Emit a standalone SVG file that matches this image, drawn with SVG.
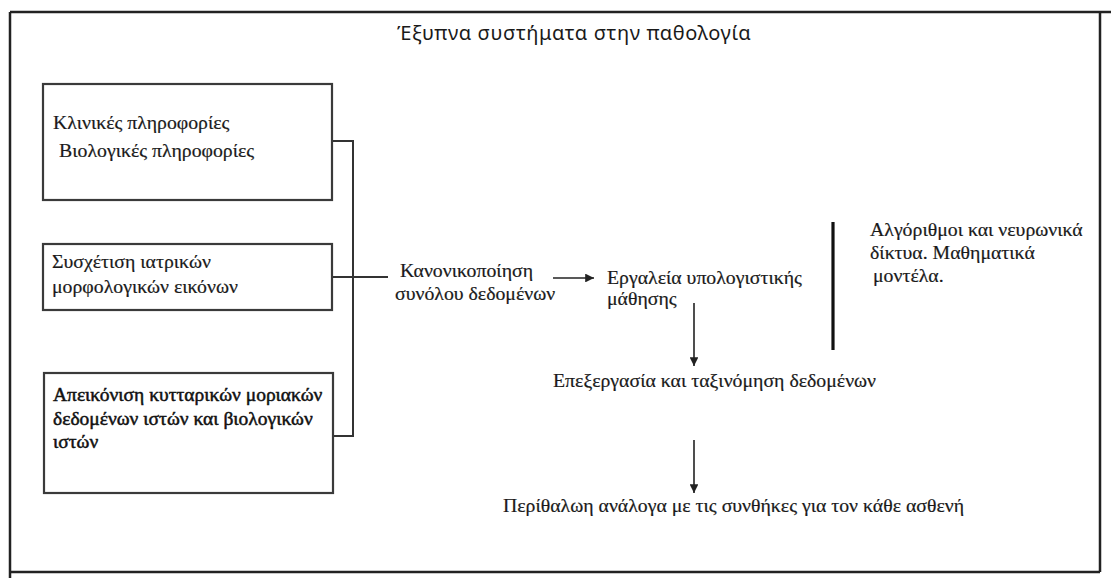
<svg xmlns="http://www.w3.org/2000/svg" width="1111" height="578" viewBox="0 0 1111 578">
<style>
.frame{stroke:#222;stroke-width:2.5;fill:none}
.box{fill:#fff;stroke:#3a3a3a;stroke-width:2.2}
.ln{stroke:#333;stroke-width:2;fill:none}
.arr{stroke:#222;stroke-width:1.6;fill:none;marker-end:url(#ah)}
.t{font-family:"Liberation Serif","Times New Roman",serif;font-size:19.8px;fill:#1a1a1a;stroke:#1a1a1a;stroke-width:0.2}
.tb{font-family:"Liberation Serif","Times New Roman",serif;font-size:19.5px;fill:#111;stroke:#111;stroke-width:0.5}
.title{font-family:"Noto Sans","Open Sans",sans-serif;font-size:20px;letter-spacing:0.6px;fill:#1a1a1a}
</style>
<defs>
<marker id="ah" viewBox="0 0 10 10" refX="10" refY="5" markerWidth="5.5" markerHeight="5.5" orient="auto" markerUnits="strokeWidth">
<path d="M0,0 L10,5 L0,10 z" fill="#222"/>
</marker>
</defs>
<rect width="1111" height="578" fill="#fff"/>
<g id="frame">
<line class="frame" x1="10" y1="12" x2="1111" y2="12"/>
<line class="frame" x1="10" y1="12" x2="10" y2="578"/>
<line class="frame" x1="1100" y1="12" x2="1100" y2="572"/>
<line class="frame" x1="10" y1="572" x2="1100" y2="572"/>
</g>
<g id="title">
<text class="title" x="397" y="40">Έξυπνα συστήματα στην παθολογία</text>
</g>
<g id="connectors">
<polyline class="ln" points="332,141 353,141 353,436 333,436"/>
<line class="ln" x1="332" y1="277" x2="388" y2="277"/>
<line class="arr" x1="553" y1="278" x2="594" y2="278"/>
<line class="arr" x1="694" y1="303" x2="694" y2="366"/>
<line class="arr" x1="694" y1="440" x2="694" y2="493"/>
<line x1="833" y1="222" x2="833" y2="350" stroke="#111" stroke-width="3.2"/>
</g>
<g id="node-clinical">
<rect class="box" x="43" y="84" width="289" height="116"/>
<text class="t" x="53" y="129">Κλινικές πληροφορίες</text>
<text class="t" x="59" y="157">Βιολογικές πληροφορίες</text>
</g>
<g id="node-images">
<rect class="box" x="43" y="244" width="289" height="66"/>
<text class="t" x="52" y="268">Συσχέτιση ιατρικών</text>
<text class="t" x="52" y="293">μορφολογικών εικόνων</text>
</g>
<g id="node-cellular">
<rect class="box" x="44" y="373" width="289" height="120"/>
<text class="tb" x="53" y="401">Απεικόνιση κυτταρικών μοριακών</text>
<text class="tb" x="53" y="425">δεδομένων ιστών και βιολογικών</text>
<text class="tb" x="53" y="448">ιστών</text>
</g>
<g id="node-normalization">
<text class="t" x="400" y="277">Κανονικοποίηση</text>
<text class="t" x="395" y="300">συνόλου δεδομένων</text>
</g>
<g id="node-ml-tools">
<text class="t" x="607" y="284">Εργαλεία υπολογιστικής</text>
<text class="t" x="607" y="305">μάθησης</text>
</g>
<g id="node-algorithms">
<text class="t" x="870" y="236">Αλγόριθμοι και νευρωνικά</text>
<text class="t" x="870" y="259">δίκτυα. Μαθηματικά</text>
<text class="t" x="873" y="282">μοντέλα.</text>
</g>
<g id="node-processing">
<text class="t" x="553" y="387">Επεξεργασία και ταξινόμηση δεδομένων</text>
</g>
<g id="node-treatment">
<text class="t" x="503" y="512">Περίθαλωη ανάλογα με τις συνθήκες για τον κάθε ασθενή</text>
</g>
</svg>
